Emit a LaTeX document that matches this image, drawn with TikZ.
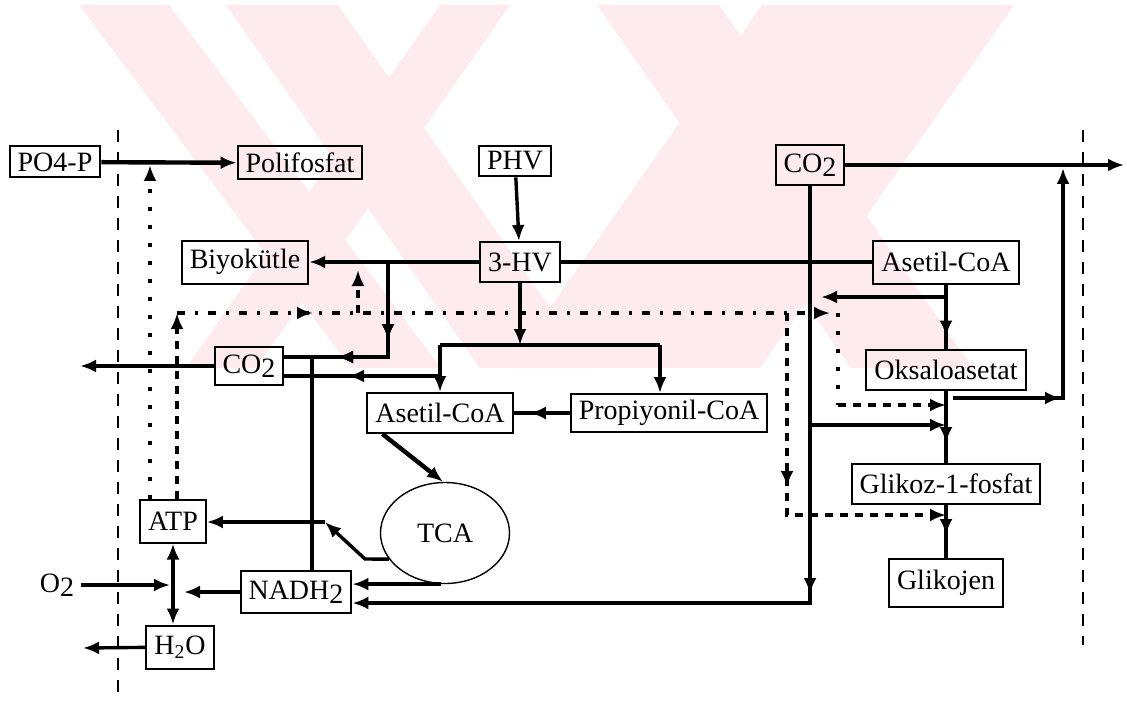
\documentclass[tikz,border=0pt]{standalone}
\usepackage{fontspec}
\setmainfont{Liberation Serif}
\usepackage{tikz}
\usetikzlibrary{arrows.meta,positioning,shapes.geometric,decorations.markings,calc}

\definecolor{wmark}{RGB}{253,235,238}
\newcommand{\lowtwo}{\raisebox{-0.3ex}{2}}

\tikzset{
  box/.style={draw, line width=1pt, inner xsep=4pt, inner ysep=3pt, minimum height=20pt},
  flow/.style={line width=1.7pt},
  arr/.style={flow, -{Latex[length=8pt,width=6.5pt]}},
  tipat/.style={postaction={decorate}, decoration={markings, mark=at position #1 with {\arrow{Latex[length=8pt,width=6.5pt]}}}},
  dotline/.style={line width=1.8pt, dash pattern=on 2pt off 7pt},
  dashline/.style={line width=1.8pt, dash pattern=on 4pt off 3.5pt},
  dashdotline/.style={line width=1.8pt, dash pattern=on 4pt off 5pt on 1.5pt off 5pt},
  border/.style={line width=1pt, dash pattern=on 6pt off 5pt}
}

\begin{document}
\begin{tikzpicture}[x=0.5pt, y=-0.5pt, font=\fontsize{14}{16}\selectfont]
\useasboundingbox (0,0) rectangle (1127,700);

% Watermark
\begin{scope}
\clip (79,5) rectangle (1014,368);
\fill[wmark] (79,5) -- (169,5) -- (441,368) -- (351,368) -- cycle;
\fill[wmark] (226,5) -- (338,5) -- (592,368) -- (480,368) -- cycle;
\fill[wmark] (440,5) -- (510,5) -- (256,368) -- (186,368) -- cycle;
\fill[wmark] (597,5) -- (719,5) -- (973,368) -- (851,368) -- cycle;
\fill[wmark] (762,5) -- (1014,5) -- (760,368) -- (508,368) -- cycle;
\end{scope}

% Cell borders
\draw[border] (118,130) -- (118,700);
\draw[border] (1083,130) -- (1083,645);

% Boxes
\node[box, minimum height=15.5pt] (po4) at (55,162) {PO4-P};
\node[box, minimum height=16.5pt] (polif) at (300,163) {Polifosfat};
\node[box, minimum height=14pt] (phv) at (515,161) {PHV};
\node[box] (co2a) at (810,165) {CO\lowtwo};
\node[box, minimum height=21.5pt] (biyo) at (245,262) {Biyokütle};
\node[box] (hv) at (520,262) {3-HV};
\node[box, minimum height=21.5pt] (aseA) at (946,262) {Asetil-CoA};
\node[box, minimum height=19pt] (co2b) at (249,366) {CO\lowtwo};
\node[box] (oksa) at (946,370) {Oksaloasetat};
\node[box] (aseB) at (440,413) {Asetil-CoA};
\node[box, minimum height=19pt] (prop) at (669,413) {Propiyonil-CoA};
\node[box] (glk) at (946,484) {Glikoz-1-fosfat};
\node[box, minimum height=24pt] (glkj) at (946,583) {Glikojen};
\node[draw, ellipse, line width=0.7pt, minimum width=64.5pt, minimum height=50.5pt, inner sep=0pt] (tca) at (445,533) {TCA};
\node[box, minimum height=21.5pt] (atp) at (173,521) {ATP};
\node[box, minimum height=21pt] (nadh) at (296,592) {NADH\lowtwo};
\node[box, minimum height=21.5pt] (h2o) at (180,647) {H\textsubscript{2}O};
\node (o2) at (57,585) {O\lowtwo};

% Junctions and free ends
\coordinate (pj) at (150,165);
\coordinate (dl) at (177,313);
\coordinate (dtip) at (830,313);
\coordinate (dbiyo) at (358,313);
\coordinate (dbt) at (358,270);
\coordinate (dgl) at (787,313);
\coordinate (dgb) at (787,515);
\coordinate (dr) at (838,313);
\coordinate (dok) at (838,405);
\coordinate (b1) at (388,262);
\coordinate (b2) at (388,357);
\coordinate (cv) at (312,357);
\coordinate (hl) at (440,345);
\coordinate (hr) at (660,345);
\coordinate (cj) at (440,376);
\coordinate (co2out) at (80,366);
\coordinate (cout) at (1124,165);
\coordinate (cb) at (810,603);
\coordinate (cg) at (810,425);
\coordinate (aj) at (946,297);
\coordinate (ajt) at (821,297);
\coordinate (oj) at (953,398);
\coordinate (oc) at (1063,398);
\coordinate (ot) at (1063,168);
\coordinate (tk) at (365,559);
\coordinate (ta) at (325,522);
\coordinate (nw) at (184,592);
\coordinate (o2in) at (170,585);
\coordinate (hout) at (83,648);

% Phosphate and energy (dashed)
\draw[arr, line width=2.2pt] (po4) -- (polif);
\draw[dotline, arr] (atp.north -| pj) -- (pj);
\draw[dashline, arr] (atp.north -| dl) -- (dl);
\draw[dashdotline, arr, tipat=68pt] (dl) -- (dtip);
\draw[dashline, arr] (dbiyo) -- (dbt);
\draw[dotline] (dr) -- (dok);
\draw[dashline, arr] (dok) -- (dok -| glk.north);
\draw[dashline, arr, tipat=87pt] (dgl) -- (dgb) -- (dgb -| glk.north);

% PHV breakdown
\draw[arr] (phv) -- (hv);
\draw[arr] (hv) -- (biyo);
\draw[flow] (hv) -- (aseA);
\draw[flow, tipat=39pt, tipat=73pt] (b1) -- (b2) -- (b2 -| co2b.east);
\draw[arr] (hv) -- (hv |- hl);
\draw[flow] (hl) -- (hr);
\draw[arr] (hl) -- (aseB);
\draw[arr] (hr) -- (hr |- prop.north);
\draw[flow, tipat=46pt] (cj) -- (cj -| co2b.east);
\draw[arr] (co2b) -- (co2out);
\draw[flow] (cv) -- (cv |- nadh.north);
\draw[flow, tipat=20pt] (prop) -- (aseB);

% Glycogen side
\draw[arr] (co2a) -- (cout);
\draw[arr, tipat=204pt] (co2a) -- (cb) -- (cb -| nadh.east);
\draw[arr] (cg) -- (cg -| glk.north);
\draw[flow, tipat=26pt] (aseA) -- (oksa);
\draw[arr] (aj) -- (ajt);
\draw[flow, tipat=26pt] (oksa) -- (glk);
\draw[flow, tipat=15pt] (glk) -- (glkj);
\draw[arr, tipat=54pt] (oj) -- (oc) -- (ot);

% TCA and respiration
\draw[arr, line width=2.2pt] ([xshift=8pt]aseB.south west) -- ([xshift=-1pt]tca.north);
\draw[arr] (tca.205) -- (tk) -- (ta);
\draw[arr] (ta) -- (ta -| atp.east);
\draw[arr] (tca.265) -- (tca.265 -| nadh.east);
\draw[arr] (nadh) -- (nw);
\draw[arr] (o2) -- (o2in);
\draw[flow, {Latex[length=8pt,width=6.5pt]}-{Latex[length=8pt,width=6.5pt]}] (atp) -- (atp |- h2o.north);
\draw[arr] (h2o) -- (hout);

\end{tikzpicture}
\end{document}
